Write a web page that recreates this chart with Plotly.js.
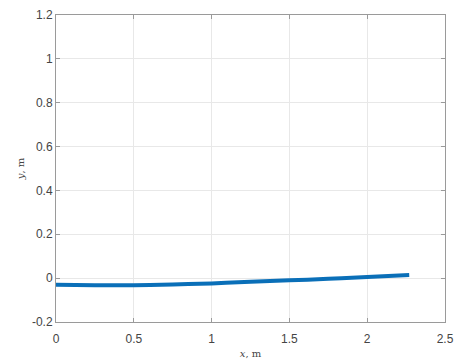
<!DOCTYPE html>
<html>
<head>
<meta charset="utf-8">
<script src="https://cdn.plot.ly/plotly-3.0.1.min.js"></script>
<style>html,body{margin:0;padding:0;background:#fff;}#chart{width:466px;height:359px;}</style>
</head>
<body>
<div id="chart"></div>
<script>
var xValues = [0, 0.25, 0.5, 0.75, 1.0, 1.25, 1.5, 1.75, 2.0, 2.27];
var yValues = [-0.030, -0.032, -0.032, -0.029, -0.024, -0.017, -0.010, -0.003, 0.005, 0.014];
var xTicks = [0, 0.5, 1, 1.5, 2, 2.5];
var xTickLabels = ['0', '0.5', '1', '1.5', '2', '2.5'];
var yTicks = [-0.2, 0, 0.2, 0.4, 0.6, 0.8, 1, 1.2];
var yTickLabels = ['-0.2', '0', '0.2', '0.4', '0.6', '0.8', '1', '1.2'];

var trace = {
  x: xValues, y: yValues, type: 'scatter', mode: 'lines',
  line: {color: '#0a6fb8', width: 4, shape: 'spline'},
  hoverinfo: 'none'
};
var axisCommon = {
  showline: true, mirror: 'ticks', linecolor: '#9a9a9a', linewidth: 1,
  ticks: 'inside', ticklen: 4, tickcolor: '#9a9a9a',
  showgrid: true, gridcolor: '#e8e8e8', gridwidth: 1, zeroline: false,
  tickfont: {family: 'Liberation Sans, Arial, sans-serif', size: 12, color: '#444'}
};
var layout = {
  width: 466, height: 359,
  margin: {l: 56, r: 21, t: 15, b: 36.5},
  paper_bgcolor: '#fff', plot_bgcolor: '#fff',
  showlegend: false,
  xaxis: Object.assign({}, axisCommon, {
    range: [0, 2.5], tickvals: xTicks, ticktext: xTickLabels, ticklabelstandoff: 6,
    title: {text: '<i>x</i>, m', font: {family: 'DejaVu Serif, serif', size: 10, color: '#444'}, standoff: 6}
  }),
  yaxis: Object.assign({}, axisCommon, {
    range: [-0.2, 1.2], tickvals: yTicks, ticktext: yTickLabels,
    title: {text: '<i>y</i>, m', font: {family: 'DejaVu Serif, serif', size: 10, color: '#444'}, standoff: 5}
  })
};
Plotly.newPlot('chart', [trace], layout, {staticPlot: true, displayModeBar: false});
</script>
</body>
</html>
